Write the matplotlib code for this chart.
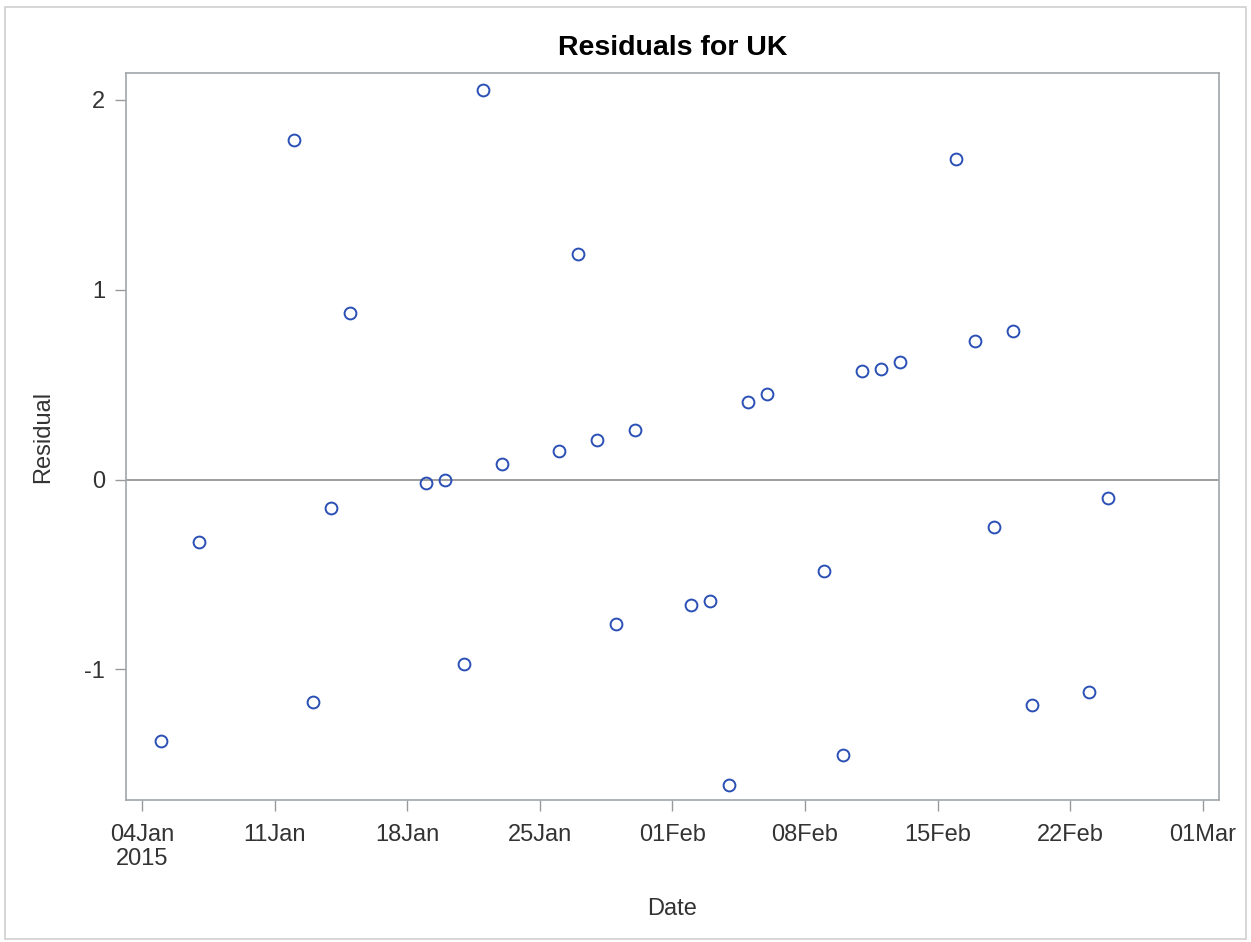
import numpy as np
import pandas as pd
import matplotlib
matplotlib.use('Agg')
import matplotlib.pyplot as plt
from matplotlib.patches import Rectangle

# 날짜별 잔차 데이터
dates = ['2015-01-05', '2015-01-07', '2015-01-12', '2015-01-13', '2015-01-14',
         '2015-01-15', '2015-01-19', '2015-01-20', '2015-01-21', '2015-01-22',
         '2015-01-23', '2015-01-26', '2015-01-27', '2015-01-28', '2015-01-29',
         '2015-01-30', '2015-02-02', '2015-02-03', '2015-02-04', '2015-02-05',
         '2015-02-06', '2015-02-09', '2015-02-10', '2015-02-11', '2015-02-12',
         '2015-02-13', '2015-02-16', '2015-02-17', '2015-02-18', '2015-02-19',
         '2015-02-20', '2015-02-23', '2015-02-24']
residuals = [-1.38, -0.33, 1.79, -1.17, -0.15,
             0.88, -0.02, 0.00, -0.97, 2.05,
             0.08, 0.15, 1.19, 0.21, -0.76,
             0.26, -0.66, -0.64, -1.61, 0.41,
             0.45, -0.48, -1.45, 0.57, 0.58,
             0.62, 1.69, 0.73, -0.25, 0.78,
             -1.19, -1.12, -0.10]

tick_dates = ['2015-01-04', '2015-01-11', '2015-01-18', '2015-01-25', '2015-02-01',
              '2015-02-08', '2015-02-15', '2015-02-22', '2015-03-01']
tick_labels = ['04Jan\n2015', '11Jan', '18Jan', '25Jan', '01Feb',
               '08Feb', '15Feb', '22Feb', '01Mar']
y_ticks = [-1, 0, 1, 2]

plt.rcParams['font.family'] = ['Liberation Sans', 'DejaVu Sans']

x = pd.to_datetime(dates)
xt = pd.to_datetime(tick_dates)

fig = plt.figure(figsize=(12.51, 9.42), dpi=100)
ax = fig.add_axes([0.1007, 0.1507, 0.8737, 0.7718])

# 바깥 테두리
fig.patches.append(Rectangle((0.004, 0.003), 0.992, 0.990, transform=fig.transFigure,
                             fill=False, edgecolor='#d0d0d0', linewidth=1.2))

ax.axhline(0, color='#8c8c8c', linewidth=1.2, zorder=1)
ax.plot(x, residuals, linestyle='none', marker='o', markersize=8.5,
        markerfacecolor='none', markeredgecolor='#2a4fb5', markeredgewidth=1.4, zorder=3)

ax.set_xlim(pd.Timestamp('2015-01-04') - pd.Timedelta(days=0.85),
            pd.Timestamp('2015-03-01') + pd.Timedelta(days=0.86))
ax.set_ylim(-1.689, 2.142)

ax.set_xticks(xt)
ax.set_xticklabels(tick_labels, fontsize=17, color='#333333', linespacing=1.15)
ax.set_yticks(y_ticks)
ax.set_yticklabels([str(v) for v in y_ticks], fontsize=17, color='#333333')

ax.tick_params(axis='both', direction='out', length=8, width=1, color='#999999')
ax.tick_params(axis='x', pad=9)
ax.tick_params(axis='y', pad=7)
for s in ax.spines.values():
    s.set_color('#a0a6ab')
    s.set_linewidth(1.2)

ax.set_title('Residuals for UK', fontsize=20.5, fontweight='bold', pad=13)
ax.set_xlabel('Date', fontsize=17, color='#333333', labelpad=20)
ax.set_ylabel('Residual', fontsize=17, color='#333333', labelpad=22)

fig.savefig('out.png', dpi=100)
